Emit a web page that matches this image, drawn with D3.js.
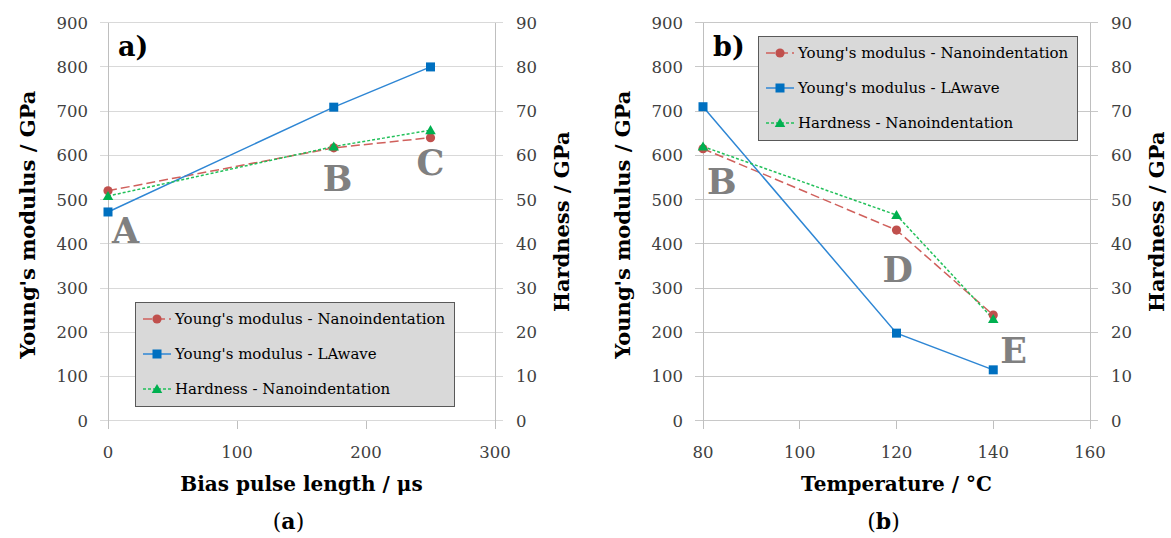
<!DOCTYPE html>
<html>
<head>
<meta charset="utf-8">
<script src="https://cdn.jsdelivr.net/npm/d3@7"></script>
<style>
  html, body { margin: 0; padding: 0; background: #fff; }
  svg { display: block; }
  text { font-family: "DejaVu Serif", serif; }
</style>
</head>
<body>
<svg id="chart" width="1171" height="538"></svg>
<script>
// ---------- data ----------
const seriesNames = ["Young's modulus - Nanoindentation", "Young's modulus - LAwave", "Hardness - Nanoindentation"];

const biasLength = [0, 175, 250];
const biasNanoModulus = [520, 617, 640];
const biasLAwaveModulus = [472, 709, 800];
const biasHardness = [50.8, 62.0, 65.7];
const biasPointLabels = ["A", "B", "C"];

const temperature = [80, 120, 140];
const tempNanoModulus = [615, 431, 239];
const tempLAwaveModulus = [710, 198, 115];
const tempHardness = [62.0, 46.5, 23.0];
const tempPointLabels = ["B", "D", "E"];

const modulusTicks = [0, 100, 200, 300, 400, 500, 600, 700, 800, 900];
const hardnessTicks = [0, 10, 20, 30, 40, 50, 60, 70, 80, 90];
const biasTicks = [0, 100, 200, 300];
const tempTicks = [80, 100, 120, 140, 160];

// ---------- styles ----------
const svg = d3.select("#chart");
const styles = [
  { color: "#c0504d", line: "#d0605c", dash: "9,4", marker: "circle" },
  { color: "#0070c0", line: "#2e86d4", dash: null, marker: "square" },
  { color: "#00b050", line: "#22c05a", dash: "3,2", marker: "triangle" }
];

function drawPanel(cfg) {
  const g = svg.append("g");
  const x = d3.scaleLinear().domain(cfg.xDomain).range([cfg.left, cfg.right]);
  const yL = d3.scaleLinear().domain([0, 900]).range([cfg.bottom, cfg.top]);
  const yR = d3.scaleLinear().domain([0, 90]).range([cfg.bottom, cfg.top]);

  // gridlines (extend as outer ticks on both sides)
  g.append("g").selectAll("line").data(modulusTicks).join("line")
    .attr("x1", cfg.left - 8).attr("x2", cfg.right + 8)
    .attr("y1", d => yL(d)).attr("y2", d => yL(d))
    .attr("stroke", cfg.grid).attr("stroke-width", 1).attr("shape-rendering", "crispEdges");

  // vertical axis lines
  [cfg.left, cfg.right].forEach(px => {
    g.append("line").attr("x1", px).attr("x2", px)
      .attr("y1", cfg.top).attr("y2", cfg.bottom + 8)
      .attr("stroke", "#bfbfbf").attr("stroke-width", 1).attr("shape-rendering", "crispEdges");
  });
  // bottom ticks
  g.append("g").selectAll("line").data(cfg.xTicks).join("line")
    .attr("x1", d => x(d)).attr("x2", d => x(d))
    .attr("y1", cfg.bottom).attr("y2", cfg.bottom + 8)
    .attr("stroke", "#bfbfbf").attr("stroke-width", 1).attr("shape-rendering", "crispEdges");

  // tick labels
  const tickFont = 16.5, tickColor = "#404040";
  g.append("g").selectAll("text").data(modulusTicks).join("text")
    .attr("x", cfg.left - 20).attr("y", d => yL(d)).attr("dy", "0.36em")
    .attr("text-anchor", "end").attr("font-size", tickFont).attr("fill", tickColor)
    .text(d => d);
  g.append("g").selectAll("text").data(hardnessTicks).join("text")
    .attr("x", cfg.right + 21).attr("y", d => yR(d)).attr("dy", "0.36em")
    .attr("text-anchor", "start").attr("font-size", tickFont).attr("fill", tickColor)
    .text(d => d);
  g.append("g").selectAll("text").data(cfg.xTicks).join("text")
    .attr("x", d => x(d)).attr("y", cfg.bottom + 37)
    .attr("text-anchor", "middle").attr("font-size", tickFont).attr("fill", tickColor)
    .text(d => d);

  // series
  const series = [
    { vals: cfg.nano, y: yL },
    { vals: cfg.lawave, y: yL },
    { vals: cfg.hard, y: yR }
  ];
  series.forEach((s, i) => {
    const st = styles[i];
    const pts = cfg.xs.map((xv, j) => [x(xv), s.y(s.vals[j])]);
    g.append("path").attr("d", d3.line()(pts))
      .attr("fill", "none").attr("stroke", st.line).attr("stroke-width", 1.5)
      .attr("stroke-dasharray", st.dash);
  });
  series.forEach((s, i) => {
    const st = styles[i];
    const pts = cfg.xs.map((xv, j) => [x(xv), s.y(s.vals[j])]);
    pts.forEach(p => drawMarker(g, st, p[0], p[1]));
  });

  // point letters
  g.append("g").selectAll("text").data(cfg.labels).join("text")
    .attr("x", (d, i) => x(cfg.xs[i]) + cfg.labelOffsets[i][0])
    .attr("y", (d, i) => yL(cfg.nano[i]) + cfg.labelOffsets[i][1])
    .attr("font-size", 35).attr("font-weight", "bold").attr("fill", "#808080")
    .text(d => d);

  // panel tag
  g.append("text").attr("x", cfg.left + 10).attr("y", cfg.top + 33)
    .attr("font-size", 27).attr("font-weight", "bold").attr("fill", "#000")
    .text(cfg.tag);

  // axis titles
  const midY = (cfg.top + cfg.bottom) / 2;
  g.append("text").attr("transform", `translate(${cfg.left - 80},${midY + 3}) rotate(-90)`)
    .attr("text-anchor", "middle").attr("font-size", 21).attr("font-weight", "bold")
    .attr("dy", "0.35em").text("Young's modulus / GPa");
  g.append("text").attr("transform", `translate(${cfg.right + 67},${midY}) rotate(-90)`)
    .attr("text-anchor", "middle").attr("font-size", 21).attr("font-weight", "bold")
    .attr("dy", "0.35em").text("Hardness / GPa");
  g.append("text").attr("x", (cfg.left + cfg.right) / 2).attr("y", cfg.bottom + 70)
    .attr("text-anchor", "middle").attr("font-size", 20).attr("font-weight", "bold")
    .text(cfg.xTitle);
  const cap = g.append("text").attr("x", (cfg.left + cfg.right) / 2 - 13).attr("y", cfg.bottom + 108)
    .attr("text-anchor", "middle").attr("font-size", 22);
  cap.append("tspan").text("(");
  cap.append("tspan").attr("font-weight", "bold").text(cfg.caption);
  cap.append("tspan").text(")");

  // legend
  const lg = g.append("g").attr("transform", `translate(${cfg.legend[0]},${cfg.legend[1]})`);
  lg.append("rect").attr("x", 0.5).attr("y", 0.5).attr("width", 319).attr("height", 104)
    .attr("fill", "#d9d9d9").attr("stroke", "#595959").attr("stroke-width", 1);
  seriesNames.forEach((name, i) => {
    const st = styles[i];
    const ry = 17 + i * 35;
    lg.append("line").attr("x1", 8).attr("x2", 36).attr("y1", ry).attr("y2", ry)
      .attr("stroke", st.line).attr("stroke-width", 1.5).attr("stroke-dasharray", st.dash);
    drawMarker(lg, st, 22, ry);
    lg.append("text").attr("x", 40).attr("y", ry).attr("dy", "0.35em")
      .attr("font-size", 15).attr("fill", "#000").text(name);
  });
}

function drawMarker(g, st, cx, cy) {
  if (st.marker === "circle") {
    g.append("circle").attr("cx", cx).attr("cy", cy).attr("r", 4.6).attr("fill", st.color);
  } else if (st.marker === "square") {
    g.append("rect").attr("x", cx - 4.5).attr("y", cy - 4.5).attr("width", 9).attr("height", 9).attr("fill", st.color);
  } else {
    g.append("path").attr("d", d3.symbol(d3.symbolTriangle, 48)()).attr("transform", `translate(${cx},${cy + 1})`).attr("fill", st.color);
  }
}

drawPanel({
  left: 108, right: 495, top: 22.7, bottom: 420.7,
  xDomain: [0, 300], xTicks: biasTicks, xs: biasLength,
  nano: biasNanoModulus, lawave: biasLAwaveModulus, hard: biasHardness,
  labels: biasPointLabels, labelOffsets: [[4, 52], [-11, 43], [-14, 37]],
  tag: "a)", xTitle: "Bias pulse length / μs", caption: "a",
  legend: [135, 302], grid: "#d9d9d9"
});

drawPanel({
  left: 703, right: 1090, top: 22.7, bottom: 420.7,
  xDomain: [80, 160], xTicks: tempTicks, xs: temperature,
  nano: tempNanoModulus, lawave: tempLAwaveModulus, hard: tempHardness,
  labels: tempPointLabels, labelOffsets: [[4, 45], [-14, 52], [7, 48]],
  tag: "b)", xTitle: "Temperature / °C", caption: "b",
  legend: [758, 36], grid: "#c8c8c8"
});
</script>
</body>
</html>
